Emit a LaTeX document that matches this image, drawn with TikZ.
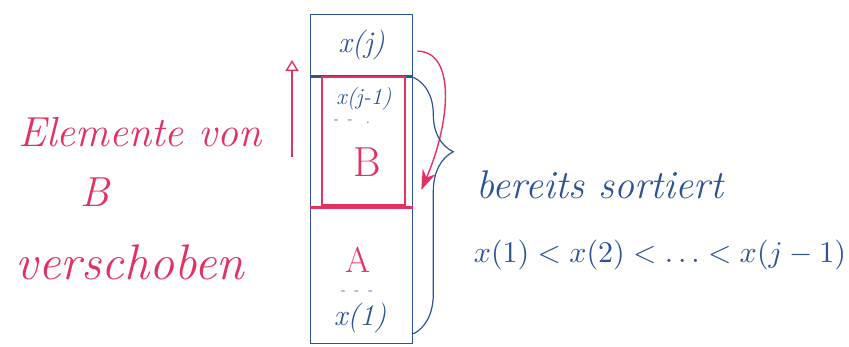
\documentclass[tikz,border=0pt]{standalone}
\usepackage{xcolor}
\usepackage{tikz}
\usetikzlibrary{arrows.meta,positioning,decorations.pathreplacing}

\definecolor{inkblue}{RGB}{45,85,150}
\definecolor{inkred}{RGB}{225,50,100}

\begin{document}
\begin{tikzpicture}[
  x=1pt, y=-1pt,
  cell/.style={draw=inkblue, line width=1.3pt, minimum width=102pt, inner sep=0pt},
  blue/.style={text=inkblue, inner sep=0pt},
  red/.style={text=inkred, inner sep=0pt},
  arr/.style={-{Stealth[length=20pt, width=14pt]}, line width=1.4pt, draw=inkred},
  brc/.style={draw=inkblue, line width=1.2pt, decorate,
    decoration={brace, amplitude=40pt, aspect=0.29}}
]
\useasboundingbox (0,0) rectangle (849,346);
% column of cells
\node[cell, minimum height=61pt, anchor=north west] (top) at (310,14) {};
\node[cell, minimum height=130pt, below=0pt of top] (cellB) {};
\node[cell, minimum height=135pt, below=0pt of cellB] (cellA) {};
% red part B inside
\draw[inkred, line width=1.2pt] (322,77) rectangle (405,205);
\draw[inkred, line width=3pt] (cellB.south west) -- (cellB.south east);
% texts in the column
\node[blue, font=\itshape\fontsize{30}{32}\selectfont] (xj) at (top.center) {x(j)};
\node[blue, font=\itshape\fontsize{23}{24}\selectfont] (xj1) at (364,99) {x(j-1)};
\node[blue, font=\fontsize{14}{14}\selectfont] (dotsB) at (352,122) {-\ \ -\ \ \ .};
\node[red, font=\fontsize{42}{44}\selectfont] (B) at (367,162) {B};
\node[red, font=\fontsize{36}{40}\selectfont] (A) at (358,260) {A};
\node[blue, font=\fontsize{14}{14}\selectfont] (dotsA) at (357,293) {-\ \ -\ \ -};
\node[blue, font=\itshape\fontsize{30}{32}\selectfont] (x1) at (360,318) {x(1)};
% left labels
\node[red, font=\itshape\fontsize{42}{46}\selectfont] (elem) at (140,132) {Elemente von};
\node[red, font=\itshape\fontsize{42}{46}\selectfont] (elemB) at (95,192) {B};
\node[red, font=\itshape\fontsize{50}{54}\selectfont] (versch) at (130,262) {verschoben};
% right labels
\node[blue, font=\itshape\fontsize{40}{44}\selectfont] (sorted) at (600,185) {bereits sortiert};
\node[blue] (order) at (660,255) {\scalebox{3}{$x(1) < x(2) < \dots < x(j-1)$}};
% arrows
\coordinate (upS) at (292,157);
\coordinate (upE) at (292,60);
\draw[arr, -{Triangle[open, length=11pt, width=13pt]}] (upS) -- (upE);
\draw[arr] ([xshift=4pt, yshift=-6pt]top.east) .. controls +(38,0) and +(30,-70) .. ([xshift=8pt, yshift=-48pt]cellB.east);
% brace
\coordinate (brTop) at ([yshift=-1pt]cellB.north east);
\coordinate (brBot) at ([yshift=10pt]cellA.south east);
\draw[brc] (brTop) -- (brBot);
\end{tikzpicture}
\end{document}
